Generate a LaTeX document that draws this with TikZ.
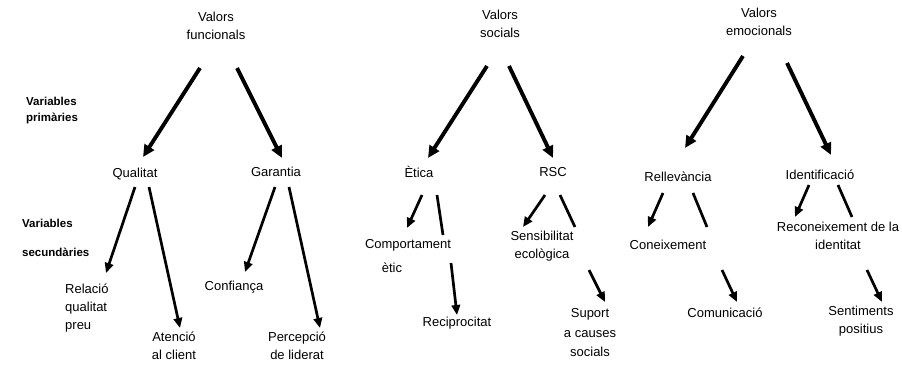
\documentclass[tikz,border=0pt]{standalone}
\usepackage{fontspec}
\setmainfont{Liberation Sans}
\usetikzlibrary{arrows.meta}
\begin{document}
\begin{tikzpicture}[x=1pt,y=-1pt,
  lbl/.style={inner sep=0pt, align=center, font=\fontsize{13}{18}\selectfont},
  side/.style={inner sep=0pt, align=left, anchor=west, font=\fontsize{11.5}{16}\selectfont\bfseries},
  mainarrow/.style={line width=3.9pt, -{Triangle[length=12pt,width=11pt]}},
  subarrow/.style={line width=2.7pt, -{Triangle[length=10pt,width=8.5pt]}},
  subline/.style={line width=2.7pt}]
\useasboundingbox (0,0) rectangle (902,368);
% top level
\node[lbl] (vf) at (216,26) {Valors\\funcionals};
\node[lbl] (vs) at (500,24) {Valors\\socials};
\node[lbl] (ve) at (759,22) {Valors\\emocionals};
% side labels
\node[side] (vp) at (26,111) {Variables\\primàries};
\node[side] (vsa) at (22,223) {Variables};
\node[side] (vsb) at (22,252) {secundàries};
% primary
\node[lbl] (qual) at (135,174) {Qualitat};
\node[lbl] (gar) at (276,172) {Garantia};
\node[lbl] (etica) at (419,172) {Ètica};
\node[lbl] (rsc) at (553,172) {RSC};
\node[lbl] (rell) at (678,177) {Rellevància};
\node[lbl] (ident) at (820,175) {Identificació};
% secondary
\node[lbl, align=left, anchor=west] (rqp) at (65,308) {Relació\\qualitat\\preu};
\node[lbl] (aten) at (174,346) {Atenció\\al client};
\node[lbl] (conf) at (234,287) {Confiança};
\node[lbl] (perc) at (297,346) {Percepció\\de liderat};
\node[lbl] (comp) at (408,245) {Comportament};
\node[lbl] (etic) at (392,268) {ètic};
\node[lbl] (recip) at (457,323) {Reciprocitat};
\node[lbl] (sens) at (542,246) {Sensibilitat\\ecològica};
\node[lbl, font=\fontsize{13}{19.5}\selectfont] (sup) at (590,333) {Suport\\a causes\\socials};
\node[lbl] (con) at (668,245) {Coneixement};
\node[lbl] (comu) at (725,313) {Comunicació};
\node[lbl] (recon) at (838,236) {Reconeixement de la\\identitat};
\node[lbl] (sent) at (861,321.5) {Sentiments\\positius};
% arrow end points
\coordinate (f1a) at (200,68);  \coordinate (f1b) at (143,157);
\coordinate (f2a) at (237,68);  \coordinate (f2b) at (282,158);
\coordinate (s1a) at (487,66);  \coordinate (s1b) at (428,158);
\coordinate (s2a) at (509,66);  \coordinate (s2b) at (553,158);
\coordinate (e1a) at (743,56);  \coordinate (e1b) at (685,148);
\coordinate (e2a) at (787,63);  \coordinate (e2b) at (831,155);
\coordinate (q1a) at (135,187); \coordinate (q1b) at (106,273);
\coordinate (q2a) at (149,187); \coordinate (q2b) at (180,328);
\coordinate (g1a) at (275,187); \coordinate (g1b) at (245,272);
\coordinate (g2a) at (289,187); \coordinate (g2b) at (320,328);
\coordinate (t1a) at (422,195); \coordinate (t1b) at (407,228);
\coordinate (t2a) at (437,195); \coordinate (t2b) at (443,235);
\coordinate (t3a) at (451,263); \coordinate (t3b) at (457,315);
\coordinate (r1a) at (545,195); \coordinate (r1b) at (523,227);
\coordinate (r2a) at (560,195); \coordinate (r2b) at (575,227);
\coordinate (r3a) at (589,270); \coordinate (r3b) at (605,302);
\coordinate (l1a) at (663,193); \coordinate (l1b) at (648,227);
\coordinate (l2a) at (693,193); \coordinate (l2b) at (707,227);
\coordinate (l3a) at (722,270); \coordinate (l3b) at (737,302);
\coordinate (i1a) at (809,185); \coordinate (i1b) at (795,217);
\coordinate (i2a) at (838,185); \coordinate (i2b) at (852,217);
\coordinate (i3a) at (867,270); \coordinate (i3b) at (882,302);
% main arrows
\draw[mainarrow] (f1a) -- (f1b);
\draw[mainarrow] (f2a) -- (f2b);
\draw[mainarrow] (s1a) -- (s1b);
\draw[mainarrow] (s2a) -- (s2b);
\draw[mainarrow] (e1a) -- (e1b);
\draw[mainarrow] (e2a) -- (e2b);
% secondary arrows
\draw[subarrow] (q1a) -- (q1b);
\draw[subarrow] (q2a) -- (q2b);
\draw[subarrow] (g1a) -- (g1b);
\draw[subarrow] (g2a) -- (g2b);
\draw[subarrow] (t1a) -- (t1b);
\draw[subline]  (t2a) -- (t2b);
\draw[subarrow] (t3a) -- (t3b);
\draw[subarrow] (r1a) -- (r1b);
\draw[subline]  (r2a) -- (r2b);
\draw[subarrow] (r3a) -- (r3b);
\draw[subarrow] (l1a) -- (l1b);
\draw[subline]  (l2a) -- (l2b);
\draw[subarrow] (l3a) -- (l3b);
\draw[subarrow] (i1a) -- (i1b);
\draw[subline]  (i2a) -- (i2b);
\draw[subarrow] (i3a) -- (i3b);
\end{tikzpicture}
\end{document}
